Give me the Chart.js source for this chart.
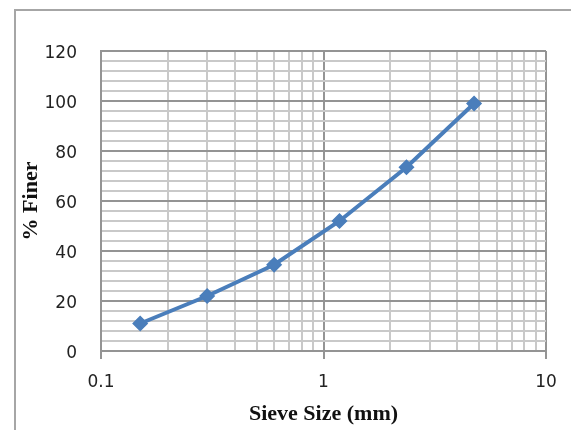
<!DOCTYPE html>
<html>
<head>
<meta charset="utf-8">
<script src="https://cdn.jsdelivr.net/npm/chart.js@4.4.1/dist/chart.umd.min.js"></script>
<style>
  html, body { margin: 0; padding: 0; background: #ffffff; }
  #wrap { position: relative; width: 571px; height: 430px; overflow: hidden; }
  #frame { position: absolute; left: 14px; top: 9px; width: 700px; height: 600px; border-left: 2px solid #a6a6a6; border-top: 2px solid #a6a6a6; }
  canvas { position: absolute; left: 0; top: 0; }
</style>
</head>
<body>
<div id="wrap">
  <div id="frame"></div>
  <canvas id="c" width="571" height="430"></canvas>
</div>
<script>
// Data
const sieveSizes = [0.15, 0.3, 0.6, 1.18, 2.36, 4.75];        // mm
const percentFiner = [11, 22, 34.5, 52, 73.5, 99];             // %
const xTickValues = [0.1, 0.2, 0.3, 0.4, 0.5, 0.6, 0.7, 0.8, 0.9,
                     1, 2, 3, 4, 5, 6, 7, 8, 9, 10];
const xTickLabels = ['0.1', '1', '10'];
const yMin = 0, yMax = 120, yMinorStep = 4, yMajorStep = 20;
const xTitle = 'Sieve Size (mm)';
const yTitle = '% Finer';

const isMajorX = v => xTickLabels.indexOf(String(v)) !== -1;
const isMajorY = v => Math.abs(v % yMajorStep) < 1e-9;

const MAJOR = '#949494', MINOR = '#c9c9c9';

new Chart(document.getElementById('c'), {
  type: 'line',
  data: {
    datasets: [{
      data: sieveSizes.map((x, i) => ({ x: x, y: percentFiner[i] })),
      borderColor: '#4a7ebb',
      backgroundColor: '#4a7ebb',
      borderWidth: 4,
      pointStyle: 'rectRot',
      pointRadius: 7,
      pointBorderWidth: 1.5,
      pointBorderColor: '#4a7ebb',
      pointBackgroundColor: '#4a7ebb',
      tension: 0,
      fill: false
    }]
  },
  options: {
    responsive: false,
    animation: false,
    layout: { padding: { top: 51, right: 25, left: 0, bottom: 0 } },
    plugins: { legend: { display: false }, tooltip: { enabled: false } },
    scales: {
      x: {
        type: 'logarithmic',
        min: 0.1,
        max: 10,
        afterBuildTicks: s => { s.ticks = xTickValues.map(v => ({ value: v })); },
        afterFit: s => { s.height = 79; },
        border: { display: true, color: MAJOR, width: 2 },
        grid: {
          lineWidth: 2,
          color: c => (c.tick && isMajorX(c.tick.value)) ? MAJOR : MINOR,
          tickColor: c => (c.tick && isMajorX(c.tick.value)) ? MAJOR : 'rgba(0,0,0,0)',
          tickLength: 8,
          drawTicks: true
        },
        ticks: {
          autoSkip: false,
          maxRotation: 0,
          padding: 13,
          color: '#222',
          font: { family: 'DejaVu Sans', size: 17 },
          callback: v => isMajorX(v) ? String(v) : ''
        },
        title: {
          display: true,
          text: xTitle,
          color: '#111',
          font: { family: 'Liberation Serif', size: 22, weight: 'bold' },
          padding: { top: 0, bottom: 2 }
        }
      },
      y: {
        min: yMin,
        max: yMax,
        afterFit: s => { s.width = 101; },
        border: { display: true, color: MAJOR, width: 2 },
        grid: {
          lineWidth: 2,
          color: c => (c.tick && isMajorY(c.tick.value)) ? MAJOR : MINOR,
          drawTicks: false
        },
        ticks: {
          stepSize: yMinorStep,
          autoSkip: false,
          padding: 24,
          labelOffset: 3,
          color: '#222',
          font: { family: 'DejaVu Sans', size: 17 },
          callback: v => isMajorY(v) ? String(v) : ''
        },
        title: {
          display: true,
          text: yTitle,
          color: '#111',
          font: { family: 'Liberation Serif', size: 22, weight: 'bold' },
          padding: { top: 18, bottom: 0 }
        }
      }
    }
  }
});
</script>
</body>
</html>
